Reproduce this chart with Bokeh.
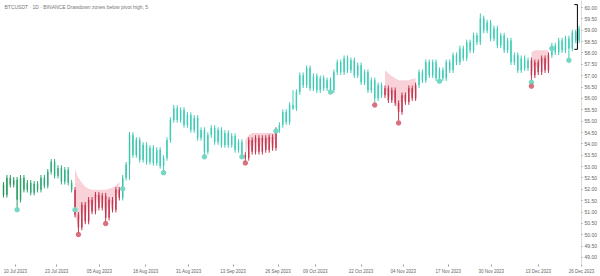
from bokeh.plotting import figure
from bokeh.models import ColumnDataSource, FixedTicker, Range1d, Label, PrintfTickFormatter
from bokeh.embed import file_html
from bokeh.resources import INLINE

# ---------------- data ----------------
closes = [
    51.76, 52.51, 52.20, 52.42, 51.54, 52.51, 51.98, 52.29, 51.85, 52.24,
    51.98, 52.51, 52.16, 52.77, 53.21, 52.60, 52.94, 52.33, 52.86, 52.29,
    51.98, 50.88, 50.32, 51.32, 50.58, 51.54, 51.02, 51.76, 51.19, 51.72,
    50.75, 51.54, 51.10, 51.98, 51.63, 52.51, 53.08, 54.39, 53.51, 54.17,
    53.30, 53.95, 53.21, 53.82, 53.16, 53.73, 53.03, 53.38, 54.17, 55.05,
    55.57, 55.05, 55.49, 54.83, 55.27, 54.61, 55.14, 54.26, 54.61, 53.65,
    54.39, 54.70, 54.08, 54.61, 53.95, 54.48, 53.95, 54.35, 53.73, 54.08,
    53.51, 53.38, 54.17, 53.65, 54.26, 53.65, 54.26, 53.73, 54.30, 53.82,
    54.61, 54.83, 55.40, 54.96, 55.71, 55.57, 56.28, 57.02, 56.58, 57.33,
    56.45, 56.98, 56.36, 56.89, 56.45, 56.80, 56.36, 57.15, 57.59, 57.15,
    57.77, 57.24, 57.68, 57.02, 57.46, 56.71, 57.15, 56.36, 56.80, 56.01,
    56.58, 56.14, 56.45, 55.92, 56.36, 55.79, 55.40, 56.14, 55.84, 56.45,
    56.01, 56.58, 57.15, 56.80, 57.59, 57.02, 57.59, 56.89, 57.24, 56.89,
    57.59, 57.24, 57.90, 57.59, 58.20, 57.77, 58.47, 58.12, 58.77, 58.47,
    59.52, 58.99, 59.34, 58.64, 59.08, 58.33, 58.77, 58.12, 58.55, 57.59,
    57.90, 57.24, 57.77, 57.33, 57.68, 57.02, 57.59, 57.15, 57.77, 57.24,
    57.90, 58.33, 58.03, 58.55, 58.12, 58.64, 58.20, 58.90, 58.55, 59.08,
]
first_open = 52.20

upper_wick = [0.12] * 170
lower_wick = [0.12] * 170
for i, w in {37: 0.13, 50: 0.14, 85: 0.65, 140: 0.22}.items():
    upper_wick[i] = w
for i, w in {4: 0.44, 22: 0.31, 30: 0.26, 37: 0.66, 47: 0.30, 59: 0.22, 71: 0.22,
             85: 0.08, 96: 0.08, 109: 0.30, 116: 0.48, 128: 0.13, 155: 0.48,
             166: 0.52}.items():
    lower_wick[i] = w

zone_starts = [21, 71, 112, 155]
zone_tops = [
    [52.86, 52.51, 52.29, 52.11, 52.02, 51.98, 51.98, 51.98, 51.98, 51.98, 52.02, 52.07, 52.16, 52.33],
    [54.17, 54.39, 54.48, 54.48, 54.48, 54.48, 54.48, 54.48, 54.48, 54.52],
    [57.24, 57.11, 56.98, 56.89, 56.80, 56.80, 56.80, 56.80, 56.85, 56.89],
    [58.03, 58.12, 58.12, 58.12, 58.12, 58.12],
]

teal_dot_x = [4, 21, 35, 47, 59, 70, 80, 96, 128, 155, 161, 166]
teal_dot_y = [51.10, 51.10, 52.02, 52.73, 53.43, 53.43, 54.57, 56.28, 56.76, 56.71, 58.20, 57.68]
red_dot_x = [22, 30, 71, 109, 116, 155]
red_dot_y = [50.01, 50.49, 53.16, 55.71, 54.92, 56.54]

y_ticks = [49.0 + 0.5 * k for k in range(23)]
x_tick_pos = [3.5, 15.6, 28.2, 41.8, 54.4, 67.4, 80.6, 91.5, 105.0, 117.4, 130.6, 143.2, 157.0, 169.7]
x_tick_labels = ["10 Jul 2023", "23 Jul 2023", "05 Aug 2023", "18 Aug 2023", "31 Aug 2023",
                 "13 Sep 2023", "26 Sep 2023", "09 Oct 2023", "22 Oct 2023", "04 Nov 2023",
                 "17 Nov 2023", "30 Nov 2023", "13 Dec 2023", "26 Dec 2023"]

title_text = "BTCUSDT · 1D · BINANCE   Drawdown zones below pivot high, 5"

bracket_x = [167.6, 168.5]
bracket_y = [58.16, 60.13]

# ---------------- build ----------------
n = len(closes)
idx = list(range(n))
opens = [first_open] + closes[:-1]
highs = [max(o, c) + u for o, c, u in zip(opens, closes, upper_wick)]
lows = [min(o, c) - l for o, c, l in zip(opens, closes, lower_wick)]

in_zone = [False] * n
for s, tops in zip(zone_starts, zone_tops):
    for k in range(len(tops)):
        in_zone[s + k] = True

c0 = (40, 150, 88)
c1 = (62, 204, 182)
red = "#c4364f"
colors = []
for i in range(n):
    if in_zone[i]:
        colors.append(red)
    else:
        t = min(1.0, i / 45.0) ** 0.8
        r, g, b = (int(round(a + (bb - a) * t)) for a, bb in zip(c0, c1))
        colors.append("#%02x%02x%02x" % (r, g, b))

src = ColumnDataSource(dict(
    x=idx, open=opens, close=closes, high=highs, low=lows, color=colors,
    top=[max(o, c) for o, c in zip(opens, closes)],
    bottom=[min(o, c) for o, c in zip(opens, closes)],
))

p = figure(width=600, height=276, output_backend="svg", toolbar_location=None,
           x_range=Range1d(-0.88, 169.7), y_range=Range1d(48.69, 60.31),
           y_axis_location="right", min_border_left=0, min_border_top=0,
           min_border_right=0, min_border_bottom=0)
p.outline_line_color = None
p.grid.grid_line_color = None
p.background_fill_color = "white"
p.border_fill_color = "white"

for s, tops in zip(zone_starts, zone_tops):
    xs = list(range(s, s + len(tops)))
    lo = [min(closes[i], t) for i, t in zip(xs, tops)]
    p.varea(x=xs, y1=lo, y2=tops, fill_color="#f6c3cb", fill_alpha=0.75)

p.segment(x0="x", y0="low", x1="x", y1="high", line_color="color", line_width=1, source=src)
p.vbar(x="x", width=0.42, top="top", bottom="bottom", fill_color="color",
       line_color=None, source=src)

p.scatter(x=teal_dot_x, y=teal_dot_y, size=4.5, fill_color="#74d6c4", line_color="#74d6c4")
p.scatter(x=red_dot_x, y=red_dot_y, size=4.5, fill_color="#d9707f", line_color="#d9707f")

p.line(x=[bracket_x[1], bracket_x[1]], y=bracket_y, line_color="black", line_width=1)
p.line(x=bracket_x, y=[bracket_y[0], bracket_y[0]], line_color="black", line_width=1)
p.line(x=bracket_x, y=[bracket_y[1], bracket_y[1]], line_color="black", line_width=1)

yax = p.yaxis[0]
yax.ticker = FixedTicker(ticks=y_ticks)
yax.formatter = PrintfTickFormatter(format="%.2f")
yax.major_label_text_font_size = "5px"
yax.major_label_text_color = "#666666"
yax.axis_line_color = "#dddddd"
yax.major_tick_line_color = "#999999"
yax.major_tick_out = 1
yax.major_tick_in = 0
yax.minor_tick_line_color = None
yax.major_label_standoff = 2

xax = p.xaxis[0]
xax.ticker = FixedTicker(ticks=x_tick_pos)
xax.major_label_overrides = {t: l for t, l in zip(x_tick_pos, x_tick_labels)}
xax.major_label_text_font_size = "4.5px"
xax.major_label_text_color = "#666666"
xax.axis_line_color = None
xax.major_tick_line_color = "#999999"
xax.major_tick_out = 2
xax.major_tick_in = 0
xax.minor_tick_line_color = None
xax.major_label_standoff = 2

p.add_layout(Label(x=4, y=258, x_units="screen", y_units="screen", text=title_text,
                   text_font_size="5px", text_color="#777777", text_baseline="middle"))

open("out.html", "w").write(file_html(p, INLINE))
